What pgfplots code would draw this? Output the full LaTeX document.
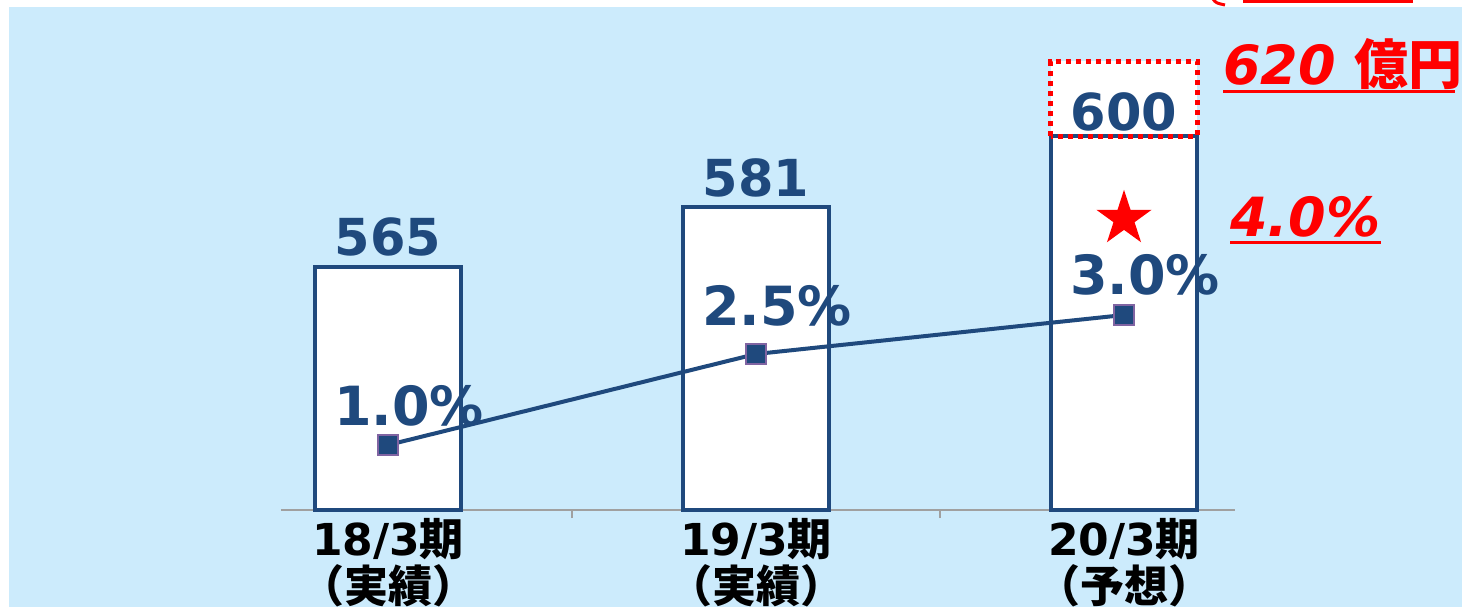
\documentclass[border=0pt]{standalone}
\usepackage{pgfplots}
\pgfplotsset{compat=1.18}
\usepackage{pgfplotstable}
\usepackage{fontspec}
\setmainfont{DejaVu Sans}
\newfontfamily\cjk{Noto Sans CJK JP}
\definecolor{bg}{RGB}{204,235,252}
\definecolor{dblue}{RGB}{31,73,125}
\definecolor{mkedge}{RGB}{128,100,162}
\definecolor{axgray}{RGB}{160,160,160}

\pgfdeclareplotmark{fstar}{%
  \pgfpathmoveto{\pgfpointpolar{90}{\pgfplotmarksize}}%
  \pgfpathlineto{\pgfpointpolar{126}{0.382*\pgfplotmarksize}}%
  \pgfpathlineto{\pgfpointpolar{162}{\pgfplotmarksize}}%
  \pgfpathlineto{\pgfpointpolar{198}{0.382*\pgfplotmarksize}}%
  \pgfpathlineto{\pgfpointpolar{234}{\pgfplotmarksize}}%
  \pgfpathlineto{\pgfpointpolar{270}{0.382*\pgfplotmarksize}}%
  \pgfpathlineto{\pgfpointpolar{306}{\pgfplotmarksize}}%
  \pgfpathlineto{\pgfpointpolar{342}{0.382*\pgfplotmarksize}}%
  \pgfpathlineto{\pgfpointpolar{18}{\pgfplotmarksize}}%
  \pgfpathlineto{\pgfpointpolar{54}{0.382*\pgfplotmarksize}}%
  \pgfpathclose
  \pgfusepathqfill}

\pgfplotstableread{
x y dy
0 565 5.5
1 581 5.5
2 600 3
}\bardata
\pgfplotstableread{
x y lab dy
0 1.0 1.0 10
1 2.4 2.5 14
2 3.0 3.0 10
}\pctdata

\begin{document}
\begin{tikzpicture}
\useasboundingbox (-140.5pt,-48.5pt) rectangle (590.5pt,255pt);
\fill[white] (-140.5pt,-48.5pt) rectangle (590.5pt,255pt);
\fill[bg] (-136pt,-48.5pt) rectangle (590.5pt,251.5pt);

\begin{axis}[
  at={(0pt,0pt)}, anchor=south west, scale only axis,
  width=477pt, height=251.5pt,
  xmin=-0.2908, xmax=2.3016, ymin=500, ymax=634.5,
  axis x line=bottom, axis line style={-, draw=axgray, line width=1pt},
  hide y axis,
  /pgf/number format/assume math mode=true,
  xtick={0,1,2},
  xticklabels={{18/3{\cjk 期}\\{\cjk （実績）}},{19/3{\cjk 期}\\{\cjk （実績）}},{20/3{\cjk 期}\\{\cjk （予想）}}},
  xticklabel style={align=center, font=\fontsize{22}{23.5}\selectfont\bfseries, text=black, inner sep=0pt, yshift=-4pt},
  major tick length=0pt,
  extra x ticks={0.5,1.5}, extra x tick labels={},
  extra x tick style={tick align=outside, major tick length=4pt, tick style={draw=axgray, line width=1pt}},
  clip=false,
]
\fill[white] (axis cs:1.8015,600) rectangle (axis cs:2.1985,620);
\addplot[ybar, bar width=0.397, fill=white, draw=dblue, line width=2.2pt,
  nodes near coords={\pgfmathprintnumber[assume math mode=true]{\pgfplotspointmeta}},
  visualization depends on={\thisrow{dy} \as \dy},
  nodes near coords style={font=\fontsize{25.5}{30}\selectfont\bfseries, text=dblue, anchor=base, inner sep=0pt, yshift=\dy pt}]
  table[x=x, y=y] {\bardata};
\draw[red, line width=2.5pt, dash pattern=on 2.5pt off 2.5pt] (axis cs:1.8015,600) rectangle (axis cs:2.1985,620);
\end{axis}

\begin{axis}[
  at={(0pt,0pt)}, anchor=south west, scale only axis,
  width=477pt, height=251.5pt,
  xmin=-0.2908, xmax=2.3016, ymin=0, ymax=7.738,
  hide axis, clip=false,
]
\addplot[dblue, line width=2pt, mark=square*, mark size=5pt,
  mark options={fill=dblue, draw=mkedge, line width=0.6pt},
  point meta=explicit symbolic,
  nodes near coords={\pgfplotspointmeta\%},
  visualization depends on={\thisrow{dy} \as \dy},
  nodes near coords style={font=\fontsize{27}{32}\selectfont\bfseries, text=dblue, anchor=base, inner sep=0pt, xshift=10.5pt, yshift=\dy pt}]
  table[x=x, y=y, meta=lab] {\pctdata};
\addplot[only marks, mark=fstar, mark size=14.5pt, mark options={fill=red, draw=none}]
  coordinates {(2,4.48)};
\end{axis}

% annotations on the right
\node[anchor=base west, inner sep=0pt, text=red, font=\fontsize{27}{32}\selectfont\bfseries]
  at ({(1223-281)*0.5pt},{(510-84)*0.5pt}) {\itshape 620 \upshape{\cjk 億円}};
\draw[red, line width=1.5pt] ({(1223-281)*0.5pt},{(510-91)*0.5pt}) -- ({(1455-281)*0.5pt},{(510-91)*0.5pt});
\node[anchor=base west, inner sep=0pt, text=red, font=\fontsize{27}{32}\selectfont\bfseries\itshape]
  at ({(1230-281)*0.5pt},{(510-236)*0.5pt}) {4.0\%};
\draw[red, line width=1.5pt] ({(1230-281)*0.5pt},{(510-242)*0.5pt}) -- ({(1381-281)*0.5pt},{(510-242)*0.5pt});
% clipped remnant at the top edge
\draw[red, line width=1.5pt] ({(1243-281)*0.5pt},{(510-1.5)*0.5pt}) -- ({(1413-281)*0.5pt},{(510-1.5)*0.5pt});
\draw[red, line width=1.5pt] ({(1213-281)*0.5pt},{(510+1)*0.5pt}) .. controls ({(1216-281)*0.5pt},{(510-3)*0.5pt}) .. ({(1225-281)*0.5pt},{(510-5)*0.5pt});
\end{tikzpicture}
\end{document}
